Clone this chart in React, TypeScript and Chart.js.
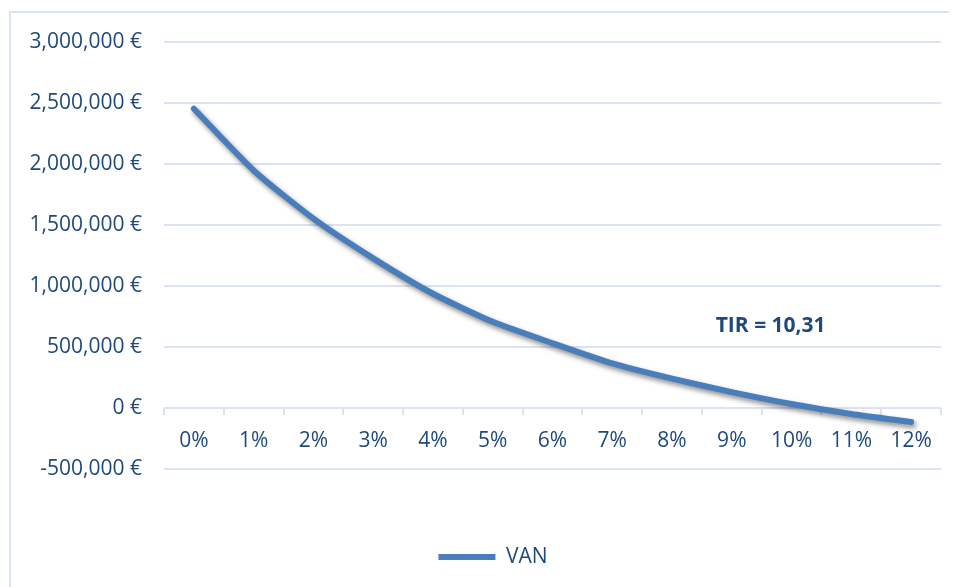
import { useEffect, useRef } from "react";
import { Chart, registerables } from "chart.js";

Chart.register(...registerables);

// ---- data ----
const categories = ["0%", "1%", "2%", "3%", "4%", "5%", "6%", "7%", "8%", "9%", "10%", "11%", "12%"];
const vanValues = [2450000, 1945000, 1550000, 1225000, 935000, 705000, 530000, 365000, 240000, 130000, 32000, -50000, -115000];
const seriesLabel = "VAN";
const yMin = -500000;
const yMax = 3000000;
const yStep = 500000;
const tirText = "TIR = 10,31";
const tirAnchor = { x: 9.65, y: 670000 };

const TEXT = "#1F497D";
const GRID = "#d9e3f2";
const LINE = "#4A7EBB";
const FONT = "'Open Sans', sans-serif";

export default function App() {
  const ref = useRef<HTMLCanvasElement | null>(null);

  useEffect(() => {
    if (!ref.current) return;

    const shadowPlugin = {
      id: "lineShadow",
      beforeDatasetDraw(chart: any) {
        const ctx = chart.ctx;
        ctx.save();
        ctx.shadowColor = "rgba(0,0,0,0.45)";
        ctx.shadowBlur = 5;
        ctx.shadowOffsetX = 2;
        ctx.shadowOffsetY = 3;
      },
      afterDatasetDraw(chart: any) {
        chart.ctx.restore();
      },
    };

    // centre the legend under the whole (cropped) chart frame
    const legendShift = {
      id: "legendShift",
      afterLayout(chart: any) {
        if (chart.legend) {
          chart.legend.left += 17;
          chart.legend.right += 17;
        }
      },
    };

    const tirPlugin = {
      id: "tirLabel",
      afterDatasetsDraw(chart: any) {
        const ctx = chart.ctx;
        const x = chart.scales.x.getPixelForValue(tirAnchor.x);
        const y = chart.scales.y.getPixelForValue(tirAnchor.y);
        ctx.save();
        ctx.font = `bold 21px ${FONT}`;
        ctx.fillStyle = TEXT;
        ctx.textAlign = "center";
        ctx.textBaseline = "middle";
        ctx.fillText(tirText, x, y);
        ctx.restore();
      },
    };

    const chart = new Chart(ref.current, {
      type: "line",
      data: {
        labels: categories,
        datasets: [
          {
            label: seriesLabel,
            data: vanValues,
            borderColor: LINE,
            backgroundColor: LINE,
            borderWidth: 6,
            borderCapStyle: "round",
            borderJoinStyle: "round",
            pointRadius: 0,
            pointHoverRadius: 0,
            pointStyle: "line",
            tension: 0.2,
            fill: false,
          },
        ],
      },
      options: {
        responsive: false,
        animation: false,
        layout: { padding: { top: 10, left: 0, right: 32, bottom: 9.5 } },
        plugins: {
          tooltip: { enabled: false },
          legend: {
            position: "bottom",
            labels: {
              usePointStyle: true,
              pointStyleWidth: 57,
              padding: 77.5,
              color: TEXT,
              font: { family: FONT, size: 21 },
            },
          },
        },
        scales: {
          x: {
            type: "category",
            position: { y: 0 } as any,
            offset: true,
            border: { display: false },
            grid: {
              offset: true,
              drawOnChartArea: false,
              drawTicks: true,
              tickLength: 7,
              color: GRID,
              lineWidth: 2,
            },
            ticks: {
              color: TEXT,
              padding: 13,
              font: { family: FONT, size: 21 },
              maxRotation: 0,
              autoSkip: false,
            },
          },
          y: {
            min: yMin,
            max: yMax,
            afterFit(scale: any) {
              scale.width = 153;
            },
            border: { display: false },
            grid: { color: GRID, lineWidth: 2, drawTicks: false },
            ticks: {
              stepSize: yStep,
              color: TEXT,
              padding: 22,
              font: { family: FONT, size: 21 },
              callback: (v: any) => `${Number(v).toLocaleString("en-US")} €`,
            },
          },
        },
      },
      plugins: [shadowPlugin, legendShift, tirPlugin],
    });

    return () => chart.destroy();
  }, []);

  return (
    <div style={{ width: 949, height: 579, overflow: "hidden", boxSizing: "border-box", paddingLeft: 1, paddingTop: 3 }}>
      <div
        style={{
          width: 990,
          height: 600,
          borderTop: `2px solid ${GRID}`,
          borderLeft: `2px solid ${GRID}`,
          position: "relative",
        }}
      >
        <canvas
          ref={ref}
          width={962}
          height={580}
          style={{ display: "block", position: "relative", top: -6 }}
        />
      </div>
    </div>
  );
}
